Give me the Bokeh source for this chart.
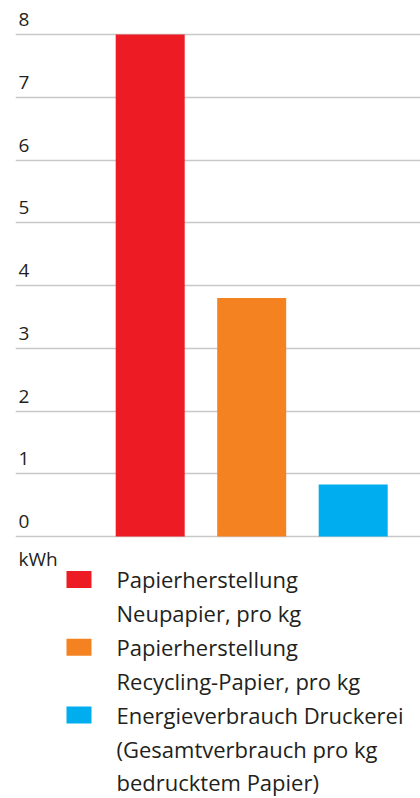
from bokeh.plotting import figure
from bokeh.models import Range1d, Grid, FixedTicker
from bokeh.core.properties import value
from bokeh.embed import file_html
from bokeh.resources import INLINE

# ---- data ----
categories = [
    "Papierherstellung Neupapier, pro kg",
    "Papierherstellung Recycling-Papier, pro kg",
    "Energieverbrauch Druckerei (Gesamtverbrauch pro kg bedrucktem Papier)",
]
values = [8.0, 3.8, 0.83]
colors = ["#ED1C24", "#F58220", "#00AEEF"]
legend_lines = [
    ["Papierherstellung", "Neupapier, pro kg"],
    ["Papierherstellung", "Recycling-Papier, pro kg"],
    ["Energieverbrauch Druckerei", "(Gesamtverbrauch pro kg", "bedrucktem Papier)"],
]
y_ticks = [0, 1, 2, 3, 4, 5, 6, 7, 8]
tick_labels = [str(t) for t in y_ticks]
unit_label = "kWh"

# ---- layout (canvas pixels) ----
W, H = 420, 798
LEFT = 15
X0_PX, STEP_PX = 149.7, 101.5
Y0_PX, UNIT_PX = 536.0, 62.75
FONT = "Open Sans"
TXT = "#231F20"
TSHIFT = 9  # text baseline correction


def xd(px):
    return (px - X0_PX) / STEP_PX


def yd(py):
    return (Y0_PX - py) / UNIT_PX


p = figure(
    width=W, height=H,
    x_range=Range1d(xd(LEFT), xd(W)),
    y_range=Range1d(yd(H), yd(0)),
    x_axis_location=None, y_axis_location=None,
    output_backend="svg", toolbar_location=None,
    min_border_left=LEFT, min_border_right=0, min_border_top=0, min_border_bottom=0,
    outline_line_color=None, background_fill_color="white", border_fill_color="white",
)
p.grid.visible = False
p.add_layout(Grid(dimension=1, ticker=FixedTicker(ticks=y_ticks),
                  grid_line_color="#c8c8c8", grid_line_width=1.5))

idx = list(range(len(values)))
p.vbar(x=idx, top=values, bottom=0, width=69 / STEP_PX, color=colors, line_color=None)

p.text(x=[xd(18)] * len(y_ticks), y=y_ticks, text=tick_labels, y_offset=-6 - TSHIFT,
       text_baseline="alphabetic", text_align="left",
       text_font=value(FONT), text_font_size="19px", text_color=TXT)
p.text(x=[xd(18)], y=[yd(567 - TSHIFT)], text=[unit_label],
       text_baseline="alphabetic", text_align="left",
       text_font=value(FONT), text_font_size="19px", text_color=TXT)

# legend
LINE_H = 33.9
base = 587.5
line_no = 0
sq_y, tx_y, tx = [], [], []
for lines in legend_lines:
    sq_y.append(yd(base + line_no * LINE_H - 8.5))
    for ln in lines:
        tx_y.append(yd(base + line_no * LINE_H - TSHIFT))
        tx.append(ln)
        line_no += 1
p.rect(x=[xd(78.5)] * len(sq_y), y=sq_y, width=25, height=17,
       width_units="screen", height_units="screen", color=colors, line_color=None)
p.text(x=[xd(116)] * len(tx), y=tx_y, text=tx, text_baseline="alphabetic",
       text_align="left", text_font=value(FONT), text_font_size="22px", text_color=TXT)

open("out.html", "w").write(file_html(p, INLINE))
